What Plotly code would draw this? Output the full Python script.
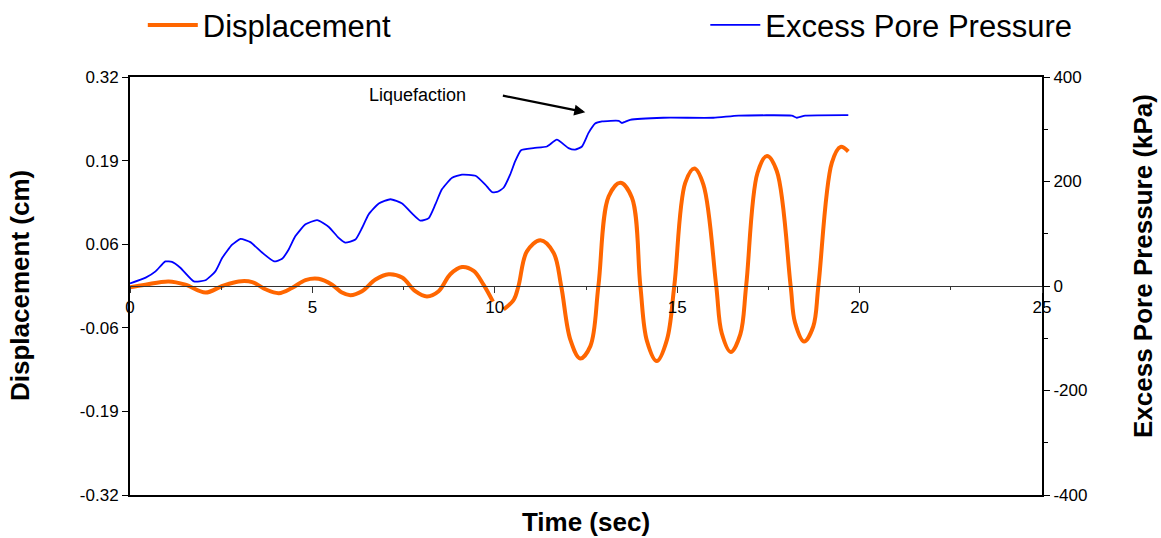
import plotly.graph_objects as go

# ---------------- data ----------------
# Displacement (cm), first segment 0-10 s
disp_time_1 = [0.0, 0.42, 1.06, 1.52, 2.07, 2.53, 2.98, 3.35, 3.71, 4.08, 4.44, 4.81,
               5.17, 5.54, 5.81, 6.04, 6.36, 6.73, 7.09, 7.46, 7.82, 8.14, 8.46, 8.78,
               9.10, 9.42, 9.69, 9.95]
disp_1 = [-0.002, 0.002, 0.007, 0.002, -0.010, 0.000, 0.007, 0.006, -0.005, -0.011,
          -0.003, 0.009, 0.011, 0.002, -0.010, -0.014, -0.008, 0.010, 0.018, 0.013,
          -0.008, -0.016, -0.008, 0.018, 0.029, 0.023, 0.002, -0.024]
# Displacement (cm), second segment 10.2-19.7 s
disp_time_2 = [10.24, 10.52, 10.65, 10.88, 11.25, 11.61, 11.82, 12.07, 12.34, 12.62,
               12.84, 13.12, 13.44, 13.76, 13.99, 14.17, 14.44, 14.72, 14.92, 15.22,
               15.47, 15.72, 16.07, 16.22, 16.47, 16.73, 16.89, 17.20, 17.46, 17.73,
               18.11, 18.23, 18.48, 18.73, 18.87, 19.24, 19.48, 19.69]
disp_2 = [-0.036, -0.021, 0.000, 0.053, 0.070, 0.051, 0.000, -0.082, -0.111, -0.092,
          0.000, 0.137, 0.158, 0.135, 0.000, -0.084, -0.115, -0.082, 0.000, 0.158,
          0.180, 0.155, 0.000, -0.072, -0.101, -0.074, 0.000, 0.173, 0.199, 0.176,
          0.000, -0.056, -0.085, -0.062, 0.000, 0.189, 0.213, 0.206]

# Excess pore pressure (kPa)
epp_time = [0.0, 0.43, 0.70, 0.97, 1.15, 1.38, 1.75, 2.07, 2.34, 2.53, 2.80, 3.03, 3.30,
            3.62, 3.95, 4.17, 4.35, 4.53, 4.81, 5.13, 5.45, 5.72, 5.90, 6.18, 6.36,
            6.54, 6.82, 7.14, 7.46, 7.73, 7.96, 8.19, 8.37, 8.55, 8.83, 9.10, 9.47,
            9.74, 9.92, 10.06, 10.24, 10.42, 10.56, 10.72, 11.06, 11.43, 11.70, 12.02,
            12.20, 12.39, 12.57, 12.75, 12.94, 13.40, 13.48, 13.71, 14.62, 15.99, 16.68,
            18.14, 18.28, 18.51, 19.69]
epp = [5, 16, 28, 47, 46, 35, 9, 11, 28, 54, 79, 90, 84, 64, 47, 52, 70, 95, 118, 126,
       113, 92, 83, 89, 111, 137, 158, 166, 158, 139, 125, 130, 156, 185, 207, 213, 211,
       194, 180, 180, 188, 213, 239, 260, 264, 267, 280, 264, 261, 267, 293, 311, 315,
       316, 312, 318, 322, 322, 326, 326, 322, 326, 327]

left_tickvals = [-0.32, -0.192, -0.064, 0.064, 0.192, 0.32]
left_ticktext = ["-0.32", "-0.19", "-0.06", "0.06", "0.19", "0.32"]
right_tickvals = [-400, -200, 0, 200, 400]
right_ticktext = ["-400", "-200", "0", "200", "400"]
x_tickvals = [0, 5, 10, 15, 20, 25]

FONT = "Liberation Sans, Arial, sans-serif"

disp_time = disp_time_1 + [None] + disp_time_2
disp = disp_1 + [None] + disp_2

fig = go.Figure()
fig.add_trace(go.Scatter(
    x=disp_time, y=disp, name="Displacement", mode="lines",
    line=dict(color="#FF6600", width=4, shape="spline", smoothing=1.0),
    xaxis="x", yaxis="y", connectgaps=False, legend="legend",
))
fig.add_trace(go.Scatter(
    x=epp_time, y=epp, name="Excess Pore Pressure", mode="lines",
    line=dict(color="#0000FF", width=1.8, shape="spline", smoothing=0.5),
    xaxis="x", yaxis="y2", legend="legend2",
))
# empty helper trace so the bottom frame axis (carrying the "Time (sec)" title) is drawn
fig.add_trace(go.Scatter(
    x=[None], y=[None], mode="lines", showlegend=False, hoverinfo="skip",
    xaxis="x2", yaxis="y",
))

tickfont = dict(family=FONT, size=17, color="black")
titlefont = dict(family=FONT, size=26, color="black", weight="bold")
legendfont = dict(family=FONT, size=31, color="black")

# plotting-area margins (px)
ML, MR, MT, MB = 130, 119, 77, 43
W, H = 1161, 538
PW, PH = W - ML - MR, H - MT - MB


def px_to_paper(px, py):
    return (px - ML) / PW, 1 - (py - MT) / PH


lx, ly = px_to_paper(20, 286)
rx, ry = px_to_paper(1143, 266)

fig.update_layout(
    width=W, height=H,
    margin=dict(l=ML, r=MR, t=MT, b=MB, autoexpand=False),
    paper_bgcolor="white", plot_bgcolor="white",
    font=dict(family=FONT, color="black"),
    showlegend=True,
    legend=dict(
        xref="container", yref="container",
        x=0.123, y=0.953, xanchor="left", yanchor="middle",
        font=legendfont, bgcolor="rgba(0,0,0,0)", itemwidth=50,
    ),
    legend2=dict(
        xref="container", yref="container",
        x=0.6075, y=0.953, xanchor="left", yanchor="middle",
        font=legendfont, bgcolor="rgba(0,0,0,0)", itemwidth=50,
    ),
    xaxis=dict(
        range=[0, 25], tickvals=x_tickvals, anchor="free", position=0.5,
        showline=True, linecolor="#333333", linewidth=1,
        ticks="outside", ticklen=6, tickcolor="#333333",
        minor=dict(dtick=2.5, ticks="outside", ticklen=3, tickcolor="#333333"),
        showgrid=False, zeroline=False, tickfont=tickfont,
    ),
    xaxis2=dict(
        range=[0, 25], overlaying="x", anchor="y", side="bottom",
        showline=True, linecolor="black", linewidth=2, mirror=True,
        showticklabels=False, ticks="", showgrid=False, zeroline=False,
        title=dict(text="Time (sec)", font=titlefont, standoff=17),
    ),
    yaxis=dict(
        range=[-0.32, 0.32], tickvals=left_tickvals, ticktext=left_ticktext,
        showline=True, linecolor="black", linewidth=2,
        ticks="outside", ticklen=6, tickcolor="black",
        showgrid=False, zeroline=False, tickfont=tickfont,
    ),
    yaxis2=dict(
        range=[-400, 400], tickvals=right_tickvals, ticktext=right_ticktext,
        overlaying="y", side="right", anchor="x2",
        showline=True, linecolor="black", linewidth=2,
        ticks="outside", ticklen=6, tickcolor="black",
        minor=dict(dtick=100, ticks="outside", ticklen=4, tickcolor="black"),
        showgrid=False, zeroline=False, tickfont=tickfont,
    ),
    annotations=[
        dict(x=lx, y=ly, xref="paper", yref="paper", xanchor="center", yanchor="middle",
             text="Displacement (cm)", textangle=-90, showarrow=False, font=titlefont),
        dict(x=rx, y=ry, xref="paper", yref="paper", xanchor="center", yanchor="middle",
             text="Excess Pore Pressure (kPa)", textangle=-90, showarrow=False,
             font=titlefont),
        dict(x=7.89, y=0.292, xref="x", yref="y", text="Liquefaction",
             showarrow=False, font=dict(family=FONT, size=18, color="black")),
        dict(x=12.48, y=0.266, xref="x", yref="y", ax=10.18, ay=0.292,
             axref="x", ayref="y", text="", showarrow=True,
             arrowhead=2, arrowsize=1, arrowwidth=2.2, arrowcolor="black"),
    ],
)

fig.write_html("out.html")
